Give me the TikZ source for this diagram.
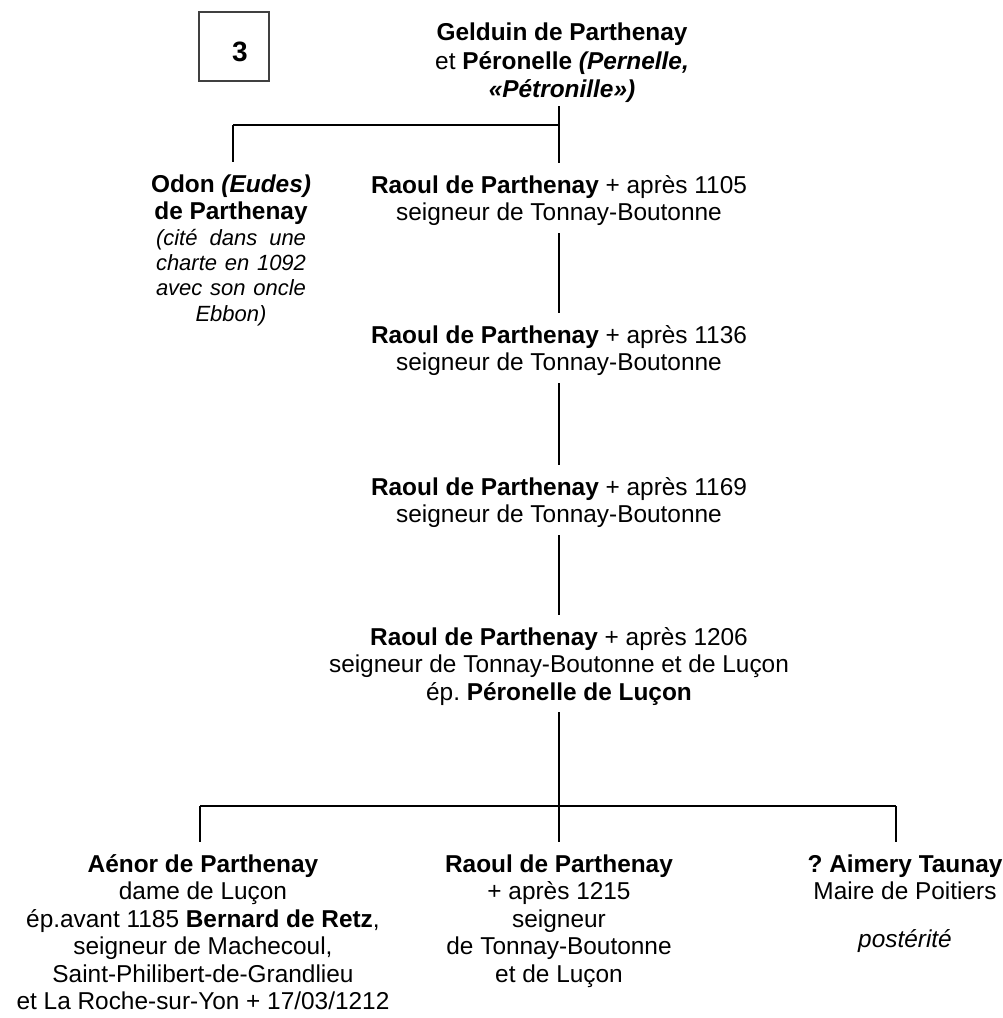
\documentclass[tikz,border=0pt]{standalone}
\usepackage{fontspec}
\setmainfont{Liberation Sans}
\usetikzlibrary{positioning}

\newcommand{\notefont}{\fontsize{16.5}{18.75}\selectfont\itshape}
\newcommand{\noteligne}[1]{\makebox[112.5pt][s]{\notefont #1}}
\newcommand{\haut}{\rule{0pt}{22.5pt}}
\newcommand{\bas}{\rule[-9pt]{0pt}{0pt}}

\begin{document}
\begin{tikzpicture}[x=0.75pt, y=-0.75pt,
    personne/.style={align=center, inner sep=0pt, anchor=north,
      font=\fontsize{18.3}{20.6}\selectfont},
    filiation/.style={line width=1.6pt},
    fratrie/.style={line width=2.2pt}]

  \useasboundingbox (0,0) rectangle (1003,1018);

  % numero de la planche
  \draw[black!75, line width=0.8pt] (199,12) rectangle (269,81);
  \node[font=\fontsize{21}{25}\selectfont\bfseries] (numero) at (240,52) {3};

  % generation 1
  \node[personne, font=\fontsize{18.3}{21.6}\selectfont] (gelduin) at (562,10)
    {\haut\textbf{Gelduin de Parthenay}\\ et \textbf{Péronelle \textit{(Pernelle,}}\\
     \textbf{\textit{«Pétronille»)}}\rule[-6pt]{0pt}{0pt}};

  % generation 2
  \node[personne] (odon) at (231,162)
    {\haut\textbf{Odon \textit{(Eudes)}}\\ \textbf{de Parthenay}\\[-1.1pt]
     \noteligne{(cité dans une}\\[-1.85pt]
     \noteligne{charte en 1092}\\[-1.85pt]
     \noteligne{avec son oncle}\\[-1.2pt]
     {\notefont Ebbon)}};
  \node[personne] (raoulA) at (559,163)
    {\haut\textbf{Raoul de Parthenay} + après 1105\\ seigneur de Tonnay-Boutonne\bas};

  % descendance
  \node[personne] (raoulB) at (559,313)
    {\haut\textbf{Raoul de Parthenay} + après 1136\\ seigneur de Tonnay-Boutonne\bas};
  \node[personne] (raoulC) at (559,465)
    {\haut\textbf{Raoul de Parthenay} + après 1169\\ seigneur de Tonnay-Boutonne\bas};
  \node[personne] (raoulD) at (559,615)
    {\haut\textbf{Raoul de Parthenay} + après 1206\\
     seigneur de Tonnay-Boutonne et de Luçon\\ ép.\ \textbf{Péronelle de Luçon}\bas};

  % enfants
  \node[personne] (aenor) at (203,842)
    {\haut\textbf{Aénor de Parthenay}\\ dame de Luçon\\
     ép.avant 1185 \textbf{Bernard de Retz},\\ seigneur de Machecoul,\\
     Saint-Philibert-de-Grandlieu\\ et La Roche-sur-Yon + 17/03/1212};
  \node[personne] (raoulE) at (559,842)
    {\haut\textbf{Raoul de Parthenay}\\ + après 1215\\ seigneur\\
     de Tonnay-Boutonne\\ et de Luçon};
  \node[personne] (aimery) at (905,842)
    {\haut\textbf{?\ Aimery Taunay}\\ Maire de Poitiers\\[15pt] \textit{postérité}};

  % traits
  \coordinate (fourche) at (559,125);
  \coordinate (brancheO) at (233,125);
  \coordinate (fourcheB) at (559,806);
  \coordinate (brancheG) at (200,806);
  \coordinate (brancheD) at (896,806);

  \draw[filiation] (gelduin.south -| fourche) -- (raoulA.north);
  \draw[fratrie] (brancheO) -- (fourche);
  \draw[filiation] (brancheO) -- (brancheO |- odon.north);

  \foreach \a/\b in {raoulA/raoulB, raoulB/raoulC, raoulC/raoulD, raoulD/raoulE}
    \draw[filiation] (\a.south) -- (\b.north);

  \draw[fratrie] (brancheG) -- (brancheD);
  \draw[filiation] (brancheG) -- (brancheG |- aenor.north);
  \draw[filiation] (brancheD) -- (brancheD |- aimery.north);

\end{tikzpicture}
\end{document}
